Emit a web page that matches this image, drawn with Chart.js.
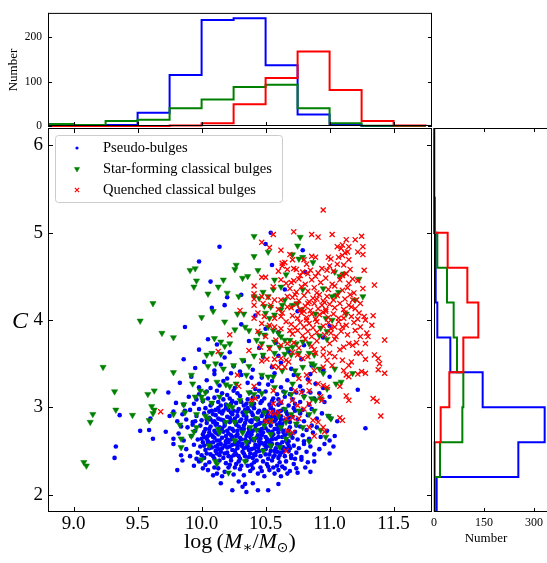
<!DOCTYPE html>
<html><head><meta charset="utf-8">
<script src="https://cdn.jsdelivr.net/npm/chart.js@4.4.1/dist/chart.umd.min.js"></script>
<style>
html,body{margin:0;padding:0;background:#fff;}
#wrap{position:relative;width:547px;height:563px;overflow:hidden;background:#fff;}
canvas{position:absolute;left:0;top:0;}
</style></head><body>
<div id="wrap">
<canvas id="topc" width="547" height="140"></canvas>
<canvas id="rightc" width="547" height="563"></canvas>
<canvas id="mainc" width="547" height="563"></canvas>
</div>
<script>
// ---------------- DATA ----------------
const seriesNames = ['Pseudo-bulges', 'Star-forming classical bulges', 'Quenched classical bulges'];
const xTicks = [9.0, 9.5, 10.0, 10.5, 11.0, 11.5];
const yTicks = [2, 3, 4, 5, 6];
const topHistTicks = [0, 100, 200];
const rightHistTicks = [0, 150, 300];

// top histogram (log M*), bin edges and counts
const massEdges = [8.75, 9.0, 9.25, 9.5, 9.75, 10.0, 10.25, 10.5, 10.75, 11.0, 11.25, 11.5, 11.75];
const massPseudo = [2, 2, 2, 30, 115, 239, 243, 137, 26, 2, 0, 0];
const massSF = [4.5, 2, 11, 14, 40, 60, 88, 93, 40, 6, 0.5, 0];
const massQ = [0, 0, 0, 0, 1, 6, 49, 108, 168, 81, 11, 1];

// right histogram (C), bin edges and counts
const concEdges = [1.8, 2.2, 2.6, 3.0, 3.4, 3.8, 4.2, 4.6, 5.0, 5.4, 5.8, 6.2];
const concPseudo = [8, 253, 332, 146, 49, 10, 5, 5, 0, 0, 0];
const concSF = [3, 18, 85, 88, 69, 59, 39, 10, 0, 0, 0];
const concQ = [2, 2, 20, 46, 88, 133, 100, 41, 3, 1, 1];

// scatter points [log M*, C]
const pseudoPts = [
[10.24,2.05],[10.35,2.03],[10.44,2.05],[10.52,2.05],[10.15,2.13],[10.29,2.15],[10.34,2.12],[10.40,2.13],[10.32,2.09],[10.6,2.12],
[9.81,2.28],[9.85,2.39],[9.94,2.33],[10.01,2.30],[10.05,2.28],[10.09,2.22],[10.12,2.24],[10.18,2.26],[10.21,2.31],[10.25,2.23],[10.27,2.35],[10.3,2.29],[10.33,2.22],[10.36,2.33],[10.38,2.27],[10.41,2.37],[10.44,2.24],[10.46,2.31],[10.49,2.21],[10.51,2.35],[10.53,2.28],[10.57,2.24],[10.59,2.33],[10.62,2.21],[10.65,2.30],[10.66,2.38],[10.69,2.27],[10.72,2.35],[10.75,2.25],[10.78,2.40],[10.81,2.31],[10.85,2.26],[10.88,2.38],[10.7,2.42],[10.06,2.37],[10.14,2.39],[10.19,2.36],[10.23,2.39],[10.29,2.38],[10.35,2.39],[10.43,2.39],[10.48,2.38],[10.55,2.39],[10.61,2.37],[9.98,2.38],[10.1,2.31],[10.16,2.21],[10.4,2.3],[10.63,2.32],[10.74,2.3],[10.83,2.37],[10.03,2.34],[10.26,2.31],[10.47,2.27],[10.56,2.31],[10.67,2.24],
[9.32,2.42],[9.33,2.55],[9.78,2.58],[9.84,2.45],[9.88,2.52],[9.91,2.44],[9.94,2.57],[9.97,2.48],[9.99,2.55],[10.02,2.42],[10.03,2.51],[10.05,2.58],[10.07,2.46],[10.08,2.54],[10.1,2.41],[10.11,2.5],[10.13,2.57],[10.14,2.45],[10.16,2.53],[10.17,2.42],[10.19,2.59],[10.2,2.48],[10.22,2.55],[10.23,2.43],[10.24,2.51],[10.26,2.58],[10.27,2.46],[10.28,2.53],[10.3,2.41],[10.31,2.56],[10.32,2.49],[10.34,2.44],[10.35,2.54],[10.36,2.59],[10.38,2.47],[10.39,2.52],[10.4,2.42],[10.42,2.57],[10.43,2.49],[10.44,2.54],[10.46,2.44],[10.47,2.59],[10.48,2.51],[10.5,2.46],[10.51,2.55],[10.52,2.41],[10.54,2.5],[10.55,2.58],[10.57,2.45],[10.58,2.53],[10.6,2.42],[10.61,2.57],[10.62,2.48],[10.64,2.54],[10.65,2.44],[10.67,2.59],[10.68,2.5],[10.7,2.45],[10.72,2.56],[10.74,2.48],[10.76,2.53],[10.78,2.43],[10.8,2.58],[10.82,2.49],[10.85,2.55],[10.88,2.46],[10.92,2.52],[10.96,2.58],[11.0,2.47],[11.03,2.55],[10.01,2.6],[10.09,2.6],[10.21,2.6],[10.29,2.6],[10.37,2.6],[10.45,2.61],[10.53,2.6],[10.63,2.6],[9.96,2.41],[10.12,2.47],[10.18,2.56],[10.25,2.45],[10.33,2.53],[10.41,2.46],[10.49,2.57],[10.56,2.43],[10.66,2.52],[10.73,2.41],[10.06,2.53],[10.15,2.49],[10.37,2.43],[10.59,2.49],
[9.52,2.73],[9.59,2.74],[9.62,2.64],[9.72,2.72],[9.78,2.64],[9.82,2.7],[9.86,2.62],[9.89,2.77],[9.92,2.67],[9.95,2.73],[9.97,2.63],[9.99,2.79],[10.01,2.69],[10.03,2.75],[10.04,2.64],[10.06,2.71],[10.07,2.78],[10.09,2.66],[10.1,2.73],[10.12,2.62],[10.13,2.69],[10.14,2.77],[10.16,2.65],[10.17,2.72],[10.18,2.79],[10.2,2.63],[10.21,2.7],[10.22,2.76],[10.24,2.66],[10.25,2.73],[10.26,2.62],[10.28,2.69],[10.29,2.78],[10.3,2.65],[10.32,2.72],[10.33,2.79],[10.34,2.63],[10.36,2.7],[10.37,2.76],[10.38,2.66],[10.4,2.73],[10.41,2.62],[10.42,2.79],[10.44,2.68],[10.45,2.74],[10.46,2.64],[10.48,2.71],[10.49,2.77],[10.5,2.66],[10.52,2.73],[10.53,2.62],[10.54,2.79],[10.56,2.69],[10.57,2.75],[10.58,2.64],[10.6,2.71],[10.61,2.78],[10.63,2.66],[10.64,2.73],[10.66,2.62],[10.67,2.7],[10.69,2.77],[10.71,2.65],[10.73,2.72],[10.75,2.63],[10.77,2.78],[10.79,2.68],[10.82,2.74],[10.84,2.64],[10.87,2.71],[10.9,2.77],[10.93,2.66],[10.98,2.73],[11.0,2.62],[11.04,2.67],[11.28,2.76],[10.05,2.61],[10.11,2.8],[10.19,2.61],[10.27,2.8],[10.35,2.61],[10.43,2.8],[10.51,2.61],[10.59,2.8],[10.68,2.61],[10.08,2.68],[10.15,2.74],[10.23,2.68],[10.31,2.75],[10.39,2.69],[10.47,2.75],[10.55,2.67],[10.62,2.75],[10.7,2.69],[9.84,2.78],[9.93,2.8],[10.02,2.66],[10.74,2.79],[10.8,2.61],[10.86,2.79],
[9.36,2.91],[9.6,2.87],[9.75,2.9],[9.78,2.95],[9.81,2.84],[9.85,2.92],[9.88,2.86],[9.91,2.97],[9.93,2.83],[9.96,2.9],[9.98,2.98],[10.0,2.85],[10.02,2.93],[10.04,2.82],[10.06,2.88],[10.08,2.96],[10.1,2.84],[10.11,2.91],[10.13,2.99],[10.15,2.86],[10.16,2.93],[10.18,2.82],[10.2,2.89],[10.21,2.97],[10.23,2.85],[10.24,2.92],[10.26,2.83],[10.28,2.9],[10.29,2.98],[10.31,2.86],[10.32,2.94],[10.34,2.82],[10.35,2.89],[10.37,2.96],[10.38,2.84],[10.4,2.91],[10.41,2.99],[10.43,2.87],[10.44,2.94],[10.46,2.82],[10.47,2.9],[10.49,2.97],[10.5,2.85],[10.52,2.92],[10.53,2.83],[10.55,2.89],[10.56,2.97],[10.58,2.86],[10.59,2.93],[10.61,2.82],[10.62,2.9],[10.64,2.98],[10.65,2.85],[10.67,2.92],[10.69,2.83],[10.71,2.89],[10.73,2.96],[10.75,2.86],[10.77,2.93],[10.8,2.84],[10.83,2.91],[10.86,2.98],[10.9,2.87],[10.94,2.93],[10.99,2.9],[11.01,2.87],[11.06,2.84],[10.03,2.99],[10.12,2.81],[10.19,2.99],[10.27,2.81],[10.36,2.99],[10.45,2.81],[10.54,2.99],[10.63,2.81],[10.72,2.99],[10.09,2.92],[10.22,2.88],[10.33,2.91],[10.42,2.87],[10.51,2.89],[10.6,2.95],[10.68,2.88],[10.79,2.97],[9.87,2.96],[9.95,2.84],[10.07,2.86],[10.14,2.95],[10.25,2.96],[10.39,2.85],[10.48,2.93],[10.57,2.84],[10.66,2.95],
[9.74,3.17],[9.8,3.05],[9.86,3.03],[9.9,3.12],[9.94,3.04],[9.98,3.15],[10.01,3.07],[10.04,3.18],[10.07,3.02],[10.1,3.11],[10.13,3.06],[10.16,3.16],[10.19,3.03],[10.22,3.1],[10.25,3.19],[10.27,3.05],[10.3,3.13],[10.33,3.02],[10.36,3.09],[10.38,3.17],[10.41,3.04],[10.44,3.12],[10.47,3.07],[10.5,3.18],[10.53,3.03],[10.56,3.1],[10.59,3.15],[10.62,3.05],[10.65,3.12],[10.68,3.02],[10.71,3.09],[10.74,3.17],[10.77,3.06],[10.8,3.13],[10.84,3.03],[10.88,3.1],[10.92,3.16],[10.96,3.06],[11.0,3.12],[11.22,3.2],[10.05,3.1],[10.17,3.09],[10.28,3.16],[10.35,3.04],[10.45,3.19],[10.55,3.07],[10.64,3.18],[10.73,3.04],[10.85,3.17],[10.12,3.19],[10.24,3.07],[10.4,3.11],[10.6,3.09],[10.79,3.19],[9.96,3.09],[10.2,3.14],[10.49,3.1],[10.69,3.15],
[9.83,3.28],[9.92,3.35],[9.98,3.23],[10.04,3.31],[10.1,3.38],[10.14,3.25],[10.2,3.33],[10.26,3.22],[10.31,3.37],[10.36,3.28],[10.42,3.21],[10.47,3.34],[10.52,3.26],[10.57,3.39],[10.62,3.23],[10.67,3.31],[10.72,3.37],[10.77,3.24],[10.83,3.32],[10.89,3.27],[10.95,3.22],[11.0,3.35],[10.07,3.22],[10.23,3.39],[10.39,3.34],[10.55,3.3],[10.7,3.21],[10.85,3.38],[10.17,3.3],[10.45,3.27],
[9.86,3.55],[9.95,3.45],[10.02,3.52],[10.1,3.42],[10.18,3.57],[10.25,3.47],[10.33,3.53],[10.4,3.43],[10.48,3.58],[10.55,3.46],[10.62,3.51],[10.7,3.44],[10.78,3.55],[10.86,3.48],[10.95,3.42],[10.3,3.41],[10.6,3.59],[10.15,3.49],
[9.98,3.66],[10.12,3.72],[10.22,3.63],[10.37,3.76],[10.45,3.68],[10.58,3.74],[10.68,3.64],[10.8,3.71],[10.95,3.8],[10.05,3.78],
[9.87,3.92],[10.08,4.14],[10.18,4.17],[10.31,3.95],[10.42,4.05],[10.6,3.86],[11.0,3.93],[10.75,4.1],[10.5,3.9],
[10.07,4.44],[10.2,4.26],[10.31,4.29],[10.81,4.55],[10.65,4.35],
[9.98,4.67],[10.14,4.84],[10.5,4.87],[10.55,4.63],[10.79,4.80],[10.54,5.0],
[10.0,2.45],[10.04,2.47],[10.09,2.44],[10.13,2.52],[10.18,2.47],[10.21,2.44],[10.26,2.5],[10.29,2.44],[10.33,2.47],[10.37,2.51],[10.42,2.45],[10.45,2.5],[10.5,2.52],[10.53,2.46],[10.57,2.5],[10.61,2.45],[10.64,2.49],[10.69,2.53],
[10.02,2.56],[10.07,2.59],[10.11,2.55],[10.15,2.58],[10.2,2.54],[10.24,2.57],[10.28,2.56],[10.32,2.58],[10.36,2.55],[10.41,2.53],[10.45,2.57],[10.5,2.59],[10.54,2.55],[10.59,2.58],[10.63,2.53],[10.68,2.56],
[10.0,2.64],[10.05,2.67],[10.1,2.65],[10.14,2.62],[10.19,2.67],[10.23,2.63],[10.27,2.67],[10.31,2.63],[10.35,2.67],[10.39,2.63],[10.43,2.65],[10.47,2.68],[10.51,2.64],[10.55,2.63],[10.6,2.66],[10.65,2.68],
[10.02,2.72],[10.06,2.75],[10.11,2.71],[10.16,2.76],[10.2,2.73],[10.24,2.75],[10.28,2.73],[10.33,2.75],[10.37,2.72],[10.42,2.75],[10.46,2.72],[10.5,2.76],[10.55,2.72],[10.59,2.75],[10.64,2.71],[10.68,2.74],
[10.04,2.86],[10.09,2.83],[10.13,2.87],[10.17,2.85],[10.22,2.83],[10.26,2.87],[10.3,2.84],[10.35,2.86],[10.39,2.83],[10.44,2.86],[10.49,2.83],[10.53,2.87],[10.58,2.89],[10.62,2.86],
[10.06,2.95],[10.11,2.97],[10.17,2.96],[10.23,2.94],[10.28,2.95],[10.34,2.97],[10.39,2.94],[10.45,2.96],[10.51,2.95],[10.56,2.93],[10.62,2.96],
[10.08,3.04],[10.15,3.02],[10.23,3.04],[10.31,3.06],[10.39,3.02],[10.46,3.05],[10.54,3.01],[10.6,3.03],
[10.13,2.3],[10.22,2.34],[10.31,2.33],[10.39,2.34],[10.52,2.32],[10.6,2.28]
];

const sfPts = [
[9.08,2.37],[9.10,2.33],[9.13,2.83],[9.15,2.92],[9.23,3.46],[9.32,3.18],[9.33,2.97],[9.46,2.91],[9.58,3.15],[9.63,3.19],[9.61,3.01],[9.63,2.97],[9.62,2.93],[9.59,2.85],[9.78,2.92],[9.78,3.40],[9.52,3.99],[9.62,4.19],[9.69,3.85],[9.78,3.80],
[10.41,4.96],[10.27,4.63],[10.26,4.58],[9.91,4.57],[9.95,4.59],[9.96,4.45],[9.94,4.38],[10.05,4.30],[10.13,4.38],[10.17,4.46],[10.2,4.31],[10.29,4.27],[10.32,4.48],[10.36,4.5],[10.41,4.73],[10.44,4.57],[10.52,4.78],[10.09,4.10],[10.0,4.03],[10.18,3.98],[10.28,4.07],[10.33,4.07],[10.26,3.89],[10.34,3.92],[10.37,3.88],[10.10,3.79],[10.15,3.75],[10.18,3.70],[10.22,3.73],
[10.48,4.32],[10.52,4.27],[10.45,4.25],[10.49,4.16],[10.54,4.15],[10.50,4.08],[10.53,4.02],[10.57,4.06],[10.62,4.12],[10.63,4.17],[10.65,4.23],[10.56,4.35],[10.57,4.46],[10.62,4.38],[10.66,4.52],[10.52,3.92],[10.56,3.88],[10.6,3.85],[10.62,3.81],[10.45,3.85],[10.49,3.83],[10.41,4.27],[10.43,3.77],[10.47,3.73],[10.53,3.69],[10.57,3.75],[10.61,3.69],[10.65,3.77],[10.67,3.67],
[10.77,4.95],[10.75,4.85],[10.71,4.75],[10.79,4.72],[10.76,4.70],[10.87,4.66],[11.04,4.55],[11.11,4.53],[11.08,4.5],[11.23,4.47],[11.26,4.27],[11.02,4.27],[11.05,4.28],[11.07,4.32],[10.79,4.35],[10.95,4.36],[11.2,4.23],[11.13,4.07],[11.02,4.0],[10.97,4.02],[10.89,4.07],[10.93,3.91],[10.98,3.87],[10.92,3.82],[10.98,3.78],[10.71,4.17],[10.75,4.19],[10.78,4.12],[10.74,3.73],[10.79,3.75],[10.84,3.73],[10.69,3.77],[10.71,3.69],
[9.86,3.03],[9.87,2.94],[9.83,2.80],[9.84,2.64],[9.84,2.54],[9.92,3.37],[9.93,3.27],[9.96,2.92],[9.92,2.67],[9.94,2.72],[10.0,2.40],[10.03,2.90],[10.05,2.87],[9.99,3.19],[10.0,3.12],[10.11,2.38],[10.12,2.35],[10.21,2.25],[10.34,2.38],
[10.04,3.60],[10.08,3.62],[10.15,3.61],[10.11,3.50],[10.05,3.47],[10.17,3.44],[10.25,3.48],[10.32,3.54],[10.37,3.47],[10.41,3.59],[10.48,3.60],[10.57,3.62],[10.65,3.61],[10.47,3.37],[10.52,3.35],[10.56,3.35],[10.63,3.42],[10.03,3.17],[10.12,3.29],[10.19,3.26],[10.22,3.24],[10.27,3.27],[10.35,3.37],[10.37,3.17],[10.41,3.15],[10.47,3.16],[10.57,3.23],[10.65,3.17],[9.95,3.12],[10.01,3.08],[10.08,3.05],[10.14,3.12],[10.21,3.02],[10.24,3.0],[10.30,3.08],[10.35,2.94],[10.39,3.04],[10.43,2.87],[10.49,2.94],[10.54,2.85],[10.60,2.90],[10.65,2.98],[10.66,2.83],[9.96,2.77],[10.13,2.75],[10.19,2.83],[10.26,2.83],[10.32,2.71],[10.38,2.77],[10.43,2.74],[10.49,2.79],[10.54,2.69],[10.62,2.77],[10.06,2.56],[10.14,2.71],[10.26,2.62],[10.35,2.60],[10.41,2.64],[10.48,2.50],[10.54,2.56],[10.61,2.54],[10.66,2.64],
[10.70,3.60],[10.76,3.62],[10.84,3.62],[10.88,3.60],[10.73,3.42],[10.75,3.37],[10.79,3.46],[10.86,3.50],[10.88,3.48],[10.92,3.44],[10.95,3.39],[11.04,3.44],[11.05,3.27],[11.09,3.29],[11.18,3.39],[10.98,3.21],[10.71,3.27],[10.70,3.15],[10.80,3.12],[10.86,3.10],[10.89,3.08],[10.93,3.10],[10.70,2.92],[10.76,2.96],[10.84,2.92],[10.88,2.96],[10.99,2.90],[11.01,2.87],[10.93,2.74],[10.97,2.66],[10.84,2.61],[10.74,2.81],[10.79,2.77],[10.69,2.69]
];

const qPts = [
[9.68,2.95],
[10.56,4.98],[10.47,4.89],[10.53,4.83],[10.62,4.80],[10.63,4.65],[10.5,4.49],[10.41,4.39],[10.56,4.38],[10.41,4.3],[10.41,4.24],[10.41,4.17],[10.30,4.11],[10.22,3.83],
[10.95,5.26],[10.72,5.01],[10.86,4.98],[10.91,4.95],[11.02,4.98],[11.13,4.92],[11.2,4.92],[11.25,4.96],[11.26,4.84],[11.06,4.84],[11.09,4.82],[11.1,4.86],[11.15,4.84],[11.14,4.78],[11.12,4.77],[11.22,4.78],[11.26,4.75],[10.86,4.73],[10.89,4.72],[10.99,4.72],[11.01,4.70],[11.07,4.72],[11.10,4.74],[11.15,4.69],[10.69,4.75],[10.71,4.69],[10.8,4.69],[10.82,4.64],[11.0,4.62],[10.98,4.57],[11.06,4.64],[11.11,4.63],[11.27,4.57],[11.35,4.40],[11.18,4.47],[11.13,4.53],[11.1,4.51],[10.72,4.59],[10.72,4.45],[10.79,4.55],[10.83,4.53],[10.91,4.54],[10.89,4.5],
[11.21,4.23],[11.24,4.19],[11.23,4.08],[11.27,4.04],[11.28,4.0],[11.34,4.05],[11.24,3.92],[11.33,3.94],[11.29,3.85],[11.30,3.81],[11.24,3.81],[11.28,3.73],[11.43,3.77],[11.15,3.73],[11.18,3.71],[11.11,3.69],[11.01,3.9],[11.1,3.92],[11.11,4.02],[11.17,4.15],[11.18,4.23],
[10.47,4.49],[10.65,4.66],[10.63,4.62],[10.67,4.58],[10.6,4.56],[10.62,4.46],[10.66,4.42],[10.47,4.27],[10.52,4.26],[10.57,4.23],[10.62,4.23],[10.67,4.27],[10.48,4.19],[10.54,4.17],[10.60,4.12],[10.63,4.08],[10.67,4.15],[10.44,4.08],[10.49,4.04],[10.57,4.02],[10.62,4.04],[10.66,3.98],[10.41,4.02],[10.47,3.96],[10.53,3.94],[10.57,3.92],[10.62,3.90],[10.69,3.88],[10.44,3.87],[10.50,3.81],[10.58,3.77],[10.62,3.71],[10.46,3.69],[10.53,3.67],[10.67,3.73],[10.37,3.65],
[10.74,4.58],[10.85,4.57],[10.94,4.59],[11.03,4.56],[11.16,4.58],[10.77,4.51],
[10.7,4.43],[10.76,4.47],[10.81,4.41],[10.86,4.46],[10.93,4.43],[10.97,4.48],[11.02,4.41],[11.08,4.46],[11.15,4.42],[11.22,4.45],
[10.69,4.36],[10.74,4.32],[10.78,4.38],[10.83,4.33],[10.88,4.37],[10.9,4.31],[10.99,4.35],[11.04,4.39],[11.1,4.34],[11.14,4.37],[11.19,4.31],[11.26,4.36],
[10.71,4.26],[10.76,4.22],[10.8,4.28],[10.84,4.21],[10.87,4.25],[10.92,4.29],[10.95,4.22],[10.98,4.27],[11.03,4.23],[11.06,4.28],[11.12,4.24],[11.16,4.29],[10.73,4.29],[10.9,4.24],
[10.7,4.14],[10.74,4.18],[10.77,4.12],[10.81,4.16],[10.85,4.11],[10.88,4.19],[10.91,4.13],[10.94,4.17],[10.97,4.12],[11.0,4.18],[11.04,4.14],[11.08,4.19],[11.11,4.12],[11.15,4.17],[11.2,4.13],[10.83,4.19],[10.96,4.2],
[10.71,4.05],[10.75,4.02],[10.78,4.08],[10.82,4.03],[10.86,4.07],[10.89,4.01],[10.92,4.06],[10.95,4.09],[10.99,4.03],[11.03,4.07],[11.07,4.02],[11.12,4.08],[11.17,4.04],[11.22,4.01],[10.8,4.1],[10.97,4.1],
[10.7,3.95],[10.73,3.91],[10.77,3.97],[10.8,3.92],[10.84,3.96],[10.87,3.91],[10.9,3.98],[10.95,3.93],[10.99,3.97],[11.04,3.92],[11.07,3.98],[11.13,3.94],[11.19,3.97],[10.82,4.0],
[10.71,3.84],[10.75,3.88],[10.79,3.82],[10.83,3.87],[10.86,3.81],[10.9,3.86],[10.96,3.83],[11.01,3.85],[11.05,3.81],[11.09,3.87],[11.14,3.83],[11.2,3.88],
[10.72,3.74],[10.76,3.68],[10.81,3.78],[10.86,3.7],[10.9,3.76],[10.95,3.67],[11.0,3.73],[11.04,3.78],[11.08,3.66],[11.21,3.74],[10.88,3.66],
[11.40,2.90],[11.34,3.10],[11.37,3.07],[11.08,2.88],[11.10,2.85],[11.13,3.13],[11.15,3.08],[10.96,2.72],[10.88,2.67],[10.93,3.12],[10.94,3.08],[11.43,3.39],[11.38,3.43],[11.39,3.50],[11.35,3.60],[11.38,3.56],[11.28,3.55],[11.24,3.62],[11.21,3.62],[11.22,3.38],[11.25,3.41],[11.28,3.39],[11.08,3.24],[11.13,3.37],[11.15,3.35],[11.17,3.52],[11.15,3.48],[11.11,3.42],[11.10,3.54],
[10.71,3.63],[10.75,3.60],[10.79,3.56],[10.83,3.58],[10.89,3.62],[10.95,3.60],[11.0,3.62],[11.04,3.58],[10.98,3.54],[11.02,3.48],[10.95,3.46],[10.88,3.42],[10.82,3.37],[10.76,3.33],[10.84,3.29],[10.91,3.27],[10.95,3.25],[10.98,3.23],[10.73,3.19],[10.78,3.17],[10.84,3.19],[10.71,3.08],[10.75,3.02],[10.80,2.98],[10.84,3.04],[10.87,2.85],[10.91,2.83],[10.71,2.88],[10.76,2.87],[10.84,2.77],[10.95,2.77],[10.71,2.71],
[10.13,3.64],[10.28,3.37],[10.29,3.24],[10.41,3.24],[10.39,3.08],[10.42,3.10],[10.47,3.53],[10.51,3.55],[10.57,3.55],[10.62,3.56],[10.66,3.54],[10.56,3.47],[10.6,3.46],[10.65,3.46],[10.68,3.52],[10.56,3.19],[10.62,3.06],[10.56,3.04],[10.54,2.94],[10.57,2.93],[10.6,2.94],[10.66,2.87],[10.5,2.84],[10.54,2.84],[10.67,2.73],[10.66,2.50]
];

// ---------------- STYLE ----------------
const SERIF = "'Liberation Serif', 'Times New Roman', serif";
const BLUE = '#0000ff', GREEN = '#008000', RED = '#ff0000';
Chart.defaults.font.family = SERIF;
Chart.defaults.color = '#000';
Chart.defaults.animation = false;

const toXY = a => a.map(p => ({x: p[0], y: p[1]}));
function stepTop(edges, vals) {
  const pts = [{x: edges[0], y: 0}];
  vals.forEach((v, i) => pts.push({x: edges[i], y: v}));
  pts.push({x: edges[edges.length - 1], y: 0});
  return pts;
}
function stepRight(edges, vals) {
  const pts = [{x: 0, y: edges[0]}];
  vals.forEach((v, i) => pts.push({x: v, y: edges[i]}));
  pts.push({x: 0, y: edges[edges.length - 1]});
  return pts;
}

// frame (spines + inward ticks)
function framePlugin(cfg) {
  return {
    id: 'frame',
    afterDatasetsDraw(chart) {
      const {ctx, chartArea: a, scales} = chart;
      ctx.save();
      ctx.strokeStyle = '#000';
      ctx.lineWidth = 1;
      ctx.beginPath();
      const L = a.left + 0.5, R = a.right - 0.5, T = a.top + 0.5, B = a.bottom - 0.5;
      if (cfg.sides.includes('t')) { ctx.moveTo(a.left, T); ctx.lineTo(a.right, T); }
      if (cfg.sides.includes('b')) { ctx.moveTo(a.left, B); ctx.lineTo(a.right, B); }
      if (cfg.sides.includes('l')) { ctx.moveTo(L, a.top); ctx.lineTo(L, a.bottom); }
      if (cfg.sides.includes('r')) { ctx.moveTo(R, a.top); ctx.lineTo(R, a.bottom); }
      const len = cfg.len || 5;
      (cfg.xt || []).forEach(v => {
        const px = Math.round(scales.x.getPixelForValue(v)) + 0.5;
        if (cfg.xtSides.includes('b')) { ctx.moveTo(px, a.bottom); ctx.lineTo(px, a.bottom - len); }
        if (cfg.xtSides.includes('t')) { ctx.moveTo(px, a.top); ctx.lineTo(px, a.top + len); }
      });
      (cfg.yt || []).forEach(v => {
        const py = Math.round(scales.y.getPixelForValue(v)) + 0.5;
        if (cfg.ytSides.includes('l')) { ctx.moveTo(a.left, py); ctx.lineTo(a.left + len, py); }
        if (cfg.ytSides.includes('r')) { ctx.moveTo(a.right, py); ctx.lineTo(a.right - len, py); }
      });
      ctx.stroke();
      ctx.restore();
    }
  };
}

// ---------------- TOP HISTOGRAM ----------------
new Chart(document.getElementById('topc'), {
  type: 'line',
  data: {datasets: [
    {label: seriesNames[0], data: stepTop(massEdges, massPseudo), borderColor: BLUE, order: 3},
    {label: seriesNames[1], data: stepTop(massEdges, massSF), borderColor: GREEN, order: 2},
    {label: seriesNames[2], data: stepTop(massEdges, massQ), borderColor: RED, order: 1}
  ]},
  options: {
    responsive: false, animation: false, events: [],
    layout: {padding: {left: 0, top: 11, right: 115, bottom: 14}},
    elements: {line: {borderWidth: 2, stepped: 'before', tension: 0, fill: false}, point: {radius: 0}},
    datasets: {line: {clip: {left: 0, right: 0, top: 0, bottom: 3}}},
    plugins: {legend: {display: false}, tooltip: {enabled: false}},
    scales: {
      x: {type: 'linear', min: 8.8, max: 11.8, display: false},
      y: {type: 'linear', min: 0, max: 255,
          grid: {display: false, drawTicks: false}, border: {display: false},
          afterFit(s) { s.width = 48; },
          afterBuildTicks(s) { s.ticks = topHistTicks.map(v => ({value: v})); },
          ticks: {font: {size: 11.5}, padding: 6}}
    }
  },
  plugins: [framePlugin({sides: 'tblr', xt: xTicks, xtSides: 'b', yt: topHistTicks, ytSides: 'lr', len: 4}),
    {id: 'ylab', afterDraw(chart) {
      const ctx = chart.ctx; ctx.save();
      ctx.translate(17, 70); ctx.rotate(-Math.PI / 2);
      ctx.font = `13px ${SERIF}`; ctx.textAlign = 'center'; ctx.textBaseline = 'alphabetic';
      ctx.fillStyle = '#000'; ctx.fillText('Number', 0, 0);
      ctx.restore();
    }}]
});

// ---------------- RIGHT HISTOGRAM ----------------
new Chart(document.getElementById('rightc'), {
  type: 'line',
  data: {datasets: [
    {label: seriesNames[0], data: stepRight(concEdges, concPseudo), borderColor: BLUE, order: 3},
    {label: seriesNames[1], data: stepRight(concEdges, concSF), borderColor: GREEN, order: 2},
    {label: seriesNames[2], data: stepRight(concEdges, concQ), borderColor: RED, order: 1}
  ]},
  options: {
    responsive: false, animation: false, events: [],
    layout: {padding: {left: 434, top: 128, right: 0, bottom: 0}},
    elements: {line: {borderWidth: 2, stepped: 'after', tension: 0, fill: false}, point: {radius: 0}},
    datasets: {line: {clip: {left: 2, right: 0, top: 0, bottom: 0}}},
    plugins: {legend: {display: false}, tooltip: {enabled: false}},
    scales: {
      x: {type: 'linear', min: 0, max: 339,
          grid: {display: false, drawTicks: false}, border: {display: false},
          afterFit(s) { s.height = 51; },
          afterBuildTicks(s) { s.ticks = rightHistTicks.map(v => ({value: v})); },
          ticks: {font: {size: 12}, padding: 4, maxRotation: 0, autoSkip: false}},
      y: {type: 'linear', min: 1.8, max: 6.2, display: false}
    }
  },
  plugins: [framePlugin({sides: 'tbl', xt: rightHistTicks, xtSides: 'tb', yt: [], ytSides: '', len: 4}),
    {id: 'xlab', afterDraw(chart) {
      const ctx = chart.ctx; ctx.save();
      ctx.font = `13px ${SERIF}`; ctx.textAlign = 'center'; ctx.textBaseline = 'alphabetic';
      ctx.fillStyle = '#000'; ctx.fillText('Number', 486, 542);
      ctx.restore();
    }}]
});

// ---------------- MAIN SCATTER ----------------
const legendPlugin = {
  id: 'lgd',
  afterDatasetsDraw(chart) {
    const ctx = chart.ctx; ctx.save();
    const x0 = 55.5, y0 = 135.5, w = 227, h = 67, r = 3;
    ctx.beginPath();
    ctx.moveTo(x0 + r, y0); ctx.lineTo(x0 + w - r, y0); ctx.quadraticCurveTo(x0 + w, y0, x0 + w, y0 + r);
    ctx.lineTo(x0 + w, y0 + h - r); ctx.quadraticCurveTo(x0 + w, y0 + h, x0 + w - r, y0 + h);
    ctx.lineTo(x0 + r, y0 + h); ctx.quadraticCurveTo(x0, y0 + h, x0, y0 + h - r);
    ctx.lineTo(x0, y0 + r); ctx.quadraticCurveTo(x0, y0, x0 + r, y0); ctx.closePath();
    ctx.fillStyle = '#fff'; ctx.fill();
    ctx.strokeStyle = '#cccccc'; ctx.lineWidth = 1; ctx.stroke();
    const rows = [148, 169, 190];
    const styles = [
      {pointStyle: 'circle', radius: 1.6, rotation: 0, borderWidth: 0, c: BLUE},
      {pointStyle: 'triangle', radius: 3, rotation: 180, borderWidth: 0.5, c: GREEN},
      {pointStyle: 'crossRot', radius: 3, rotation: 0, borderWidth: 1.2, c: RED}
    ];
    styles.forEach((s, i) => {
      ctx.fillStyle = s.c; ctx.strokeStyle = s.c; ctx.lineWidth = s.borderWidth;
      Chart.helpers.drawPoint(ctx, s, 77, rows[i]);
    });
    ctx.fillStyle = '#000'; ctx.font = `14.5px ${SERIF}`; ctx.textBaseline = 'middle'; ctx.textAlign = 'left';
    seriesNames.forEach((n, i) => ctx.fillText(n, 103, rows[i] + 0.5));
    ctx.restore();
  }
};

const axisLabelPlugin = {
  id: 'axlab',
  afterDraw(chart) {
    const ctx = chart.ctx; ctx.save();
    ctx.fillStyle = '#000'; ctx.textBaseline = 'alphabetic'; ctx.textAlign = 'left';
    const S = 22, base = 548;
    const parts = [
      {t: 'log', f: `${S}px ${SERIF}`, dy: 0},
      {t: '\u2009(', f: `${S}px ${SERIF}`, dy: 0},
      {t: 'M', f: `italic ${S}px ${SERIF}`, dy: 0},
      {t: '\u2217', f: `${Math.round(S * 0.7)}px 'DejaVu Serif', ${SERIF}`, dy: 4},
      {t: '/', f: `${S}px ${SERIF}`, dy: 0},
      {t: 'M', f: `italic ${S}px ${SERIF}`, dy: 0},
      {t: '\u2299', f: `${Math.round(S * 0.62)}px 'DejaVu Sans', ${SERIF}`, dy: 4},
      {t: ')', f: `${S}px ${SERIF}`, dy: 0}
    ];
    let total = 0;
    parts.forEach(p => { ctx.font = p.f; p.w = ctx.measureText(p.t).width; total += p.w; });
    let x = 240 - total / 2;
    parts.forEach(p => { ctx.font = p.f; ctx.fillText(p.t, x, base + p.dy); x += p.w; });
    // y label
    ctx.font = `italic 24px ${SERIF}`; ctx.textAlign = 'center'; ctx.textBaseline = 'middle';
    ctx.fillText('C', 20, 322);
    ctx.restore();
  }
};

new Chart(document.getElementById('mainc'), {
  type: 'scatter',
  data: {datasets: [
    {label: seriesNames[0], data: toXY(pseudoPts), pointStyle: 'circle', pointRadius: 2.3,
     pointBackgroundColor: BLUE, pointBorderColor: BLUE, pointBorderWidth: 0, order: 3},
    {label: seriesNames[1], data: toXY(sfPts), pointStyle: 'triangle', pointRotation: 180, pointRadius: 3.6,
     pointBackgroundColor: GREEN, pointBorderColor: GREEN, pointBorderWidth: 0.5, order: 2},
    {label: seriesNames[2], data: toXY(qPts), pointStyle: 'crossRot', pointRadius: 3.6,
     pointBackgroundColor: RED, pointBorderColor: RED, pointBorderWidth: 1.3, order: 1}
  ]},
  options: {
    responsive: false, animation: false, events: [],
    layout: {padding: {left: 0, top: 128, right: 115, bottom: 0}},
    plugins: {legend: {display: false}, tooltip: {enabled: false}},
    scales: {
      x: {type: 'linear', min: 8.8, max: 11.8,
          grid: {display: false, drawTicks: false}, border: {display: false},
          afterFit(s) { s.height = 51; },
          afterBuildTicks(s) { s.ticks = xTicks.map(v => ({value: v})); },
          ticks: {font: {size: 19}, padding: 1, maxRotation: 0, autoSkip: false, callback: v => Number(v).toFixed(1)}},
      y: {type: 'linear', min: 1.8, max: 6.2,
          grid: {display: false, drawTicks: false}, border: {display: false},
          afterFit(s) { s.width = 48; },
          afterBuildTicks(s) { s.ticks = yTicks.map(v => ({value: v})); },
          ticks: {font: {size: 19}, padding: 5, callback: v => String(v)}}
    }
  },
  plugins: [framePlugin({sides: 'tblr', xt: xTicks, xtSides: 'tb', yt: yTicks, ytSides: 'lr', len: 5}),
            legendPlugin, axisLabelPlugin]
});
</script>
</body></html>
